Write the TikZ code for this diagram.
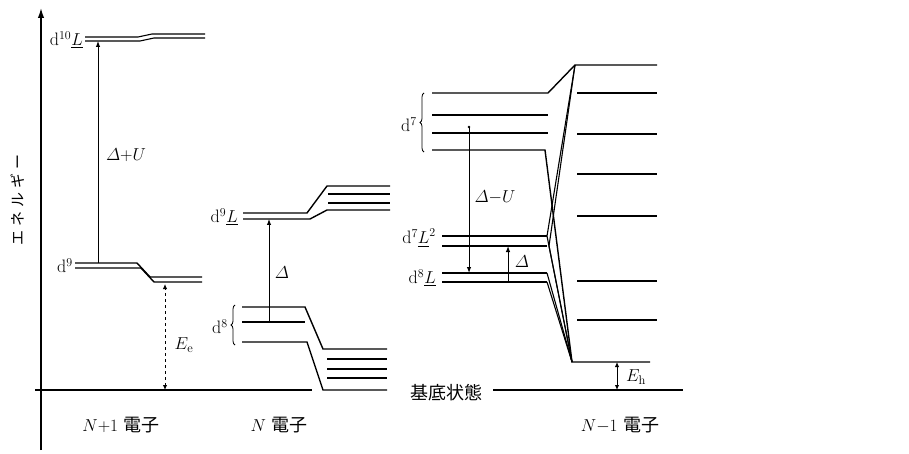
\documentclass[tikz,border=0pt]{standalone}
\usepackage{amsmath}
\usepackage{fontspec}
\newfontfamily\jp{Noto Sans CJK JP}
\usetikzlibrary{arrows.meta,decorations.pathreplacing}
\begin{document}
\begin{tikzpicture}[x=1pt,y=-1pt,
 lvl/.style={line width=1.4pt},
 thinlvl/.style={line width=1.1pt},
 axisln/.style={line width=1.5pt},
 arr/.style={line width=1pt,-{Latex[length=6pt,width=4.5pt]}},
 darr/.style={line width=1pt,{Latex[length=5pt,width=4.5pt]}-{Latex[length=5pt,width=4.5pt]}},
 lab/.style={font=\fontsize{18}{21}\selectfont,inner sep=1pt},
 jlab/.style={font=\fontsize{18}{21}\selectfont\jp,inner sep=0pt},
 brc/.style={decorate,decoration={brace,amplitude=4pt},line width=0.8pt}]
\useasboundingbox (0,0) rectangle (909,454);
\fill[white] (0,0) rectangle (909,454);

% axes
\coordinate (ax0) at (41,450);
\coordinate (ax1) at (41,8);
\draw[axisln,-{Latex[length=10pt,width=6.5pt]}] (ax0) -- (ax1);
\coordinate (b0) at (35,390);
\coordinate (b1) at (312,390);
\coordinate (b2) at (493,390);
\coordinate (b3) at (683,390);
\draw[lvl] (b0) -- (b1);
\draw[lvl] (b2) -- (b3);
\node[rotate=90,font=\fontsize{15}{17}\selectfont\jp\addfontfeature{LetterSpace=25},inner sep=0pt] (ylab) at (18,200) {エネルギー};

% N+1 electrons
\draw[thinlvl] (85,37) -- (138,37) -- (152,34) -- (205,34);
\draw[thinlvl] (85,41) -- (140,41) -- (154,38) -- (205,38);
\node[lab,anchor=east] (d10L) at (84,40) {d$^{10}\underline{L}$};
\draw[lvl] (75,263) -- (137,263) -- (150,277) -- (202,277);
\draw[lvl] (75,268) -- (141,268) -- (154,282) -- (202,282);
\node[lab,anchor=east] (d9) at (74,266) {d$^{9}$};
\coordinate (d10a) at (98,41);
\coordinate (d9a) at (98,263);
\draw[arr] (d9a) -- (d10a);
\node[lab] (dUlab) at (126,155) {$\varDelta{+}U$};
\coordinate (ee1) at (165,284);
\coordinate (ee0) at (165,390);
\draw[darr,dashed] (ee0) -- (ee1);
\node[lab] (Eelab) at (184,345) {$E_{\mathrm{e}}$};
\node[lab] (n1lab) at (121,425) {$N{+}1$\ {\jp 電子}};

% N electrons
\draw[lvl] (243,213) -- (307,213) -- (327,186) -- (390,186);
\draw[lvl] (243,219) -- (310,219) -- (327,210) -- (390,210);
\draw[lvl] (328,194) -- (390,194);
\draw[lvl] (328,203) -- (390,203);
\node[lab,anchor=east] (d9L) at (239,217) {d$^{9}\underline{L}$};
\draw[lvl] (242,307) -- (305,307) -- (323,349) -- (387,349);
\draw[lvl] (242,322) -- (305,322);
\draw[lvl] (242,342) -- (307,342) -- (323,390) -- (387,390);
\draw[lvl] (327,359) -- (387,359);
\draw[lvl] (327,369) -- (387,369);
\draw[lvl] (327,378) -- (387,378);
\draw[brc] (235,345) -- (235,305);
\node[lab,anchor=east] (d8) at (229,327) {d$^{8}$};
\coordinate (da0) at (269,322);
\coordinate (da1) at (269,219);
\draw[arr] (da0) -- (da1);
\node[lab] (dlab) at (282,273) {$\varDelta$};
\node[lab] (nlab) at (279,425) {$N$\ {\jp 電子}};

% N-1 electrons
\coordinate (tr) at (575,65);
\coordinate (br) at (572,362);
\draw[lvl] (432,93) -- (548,93) -- (tr) -- (657,65);
\draw[lvl] (432,115) -- (548,115);
\draw[lvl] (432,133) -- (548,133);
\draw[lvl] (432,150) -- (545,150) -- (br) -- (650,362);
\draw[lvl] (442,236) -- (547,236);
\draw[lvl] (442,246) -- (547,246);
\draw[lvl] (442,273) -- (547,273);
\draw[lvl] (442,282) -- (547,282);
\draw[thinlvl] (547,236) -- (tr);
\draw[thinlvl] (549,246) -- (tr);
\draw[thinlvl] (547,236) -- (br);
\draw[thinlvl] (549,246) -- (br);
\draw[thinlvl] (547,273) -- (br);
\draw[thinlvl] (547,282) -- (br);
\foreach \yy in {93,134,174,216,281,320} {\draw[lvl] (577,\yy) -- (657,\yy);}
\draw[brc] (424,152) -- (424,93);
\node[lab,anchor=east] (d7) at (418,125) {d$^{7}$};
\node[lab,anchor=east] (d7L2) at (437,238) {d$^{7}\underline{L}^{2}$};
\node[lab,anchor=east] (d8L) at (437,278) {d$^{8}\underline{L}$};
\coordinate (du0) at (469,127);
\coordinate (du1) at (469,273);
\draw[arr] (du0) -- (du1);
\fill (du0) circle (1.3pt);
\node[lab] (dUmlab) at (495,197) {$\varDelta{-}U$};
\coordinate (ds0) at (508,281);
\coordinate (ds1) at (508,246);
\draw[arr] (ds0) -- (ds1);
\node[lab] (dslab) at (522,262) {$\varDelta$};
\coordinate (eh1) at (617,362);
\coordinate (eh0) at (617,390);
\draw[darr] (eh0) -- (eh1);
\node[lab] (Ehlab) at (636,377) {$E_{\mathrm{h}}$};
\node[jlab] (gs) at (446,393) {基底状態};
\node[lab] (nm1lab) at (620,425) {$N{-}1$\ {\jp 電子}};
\end{tikzpicture}
\end{document}
